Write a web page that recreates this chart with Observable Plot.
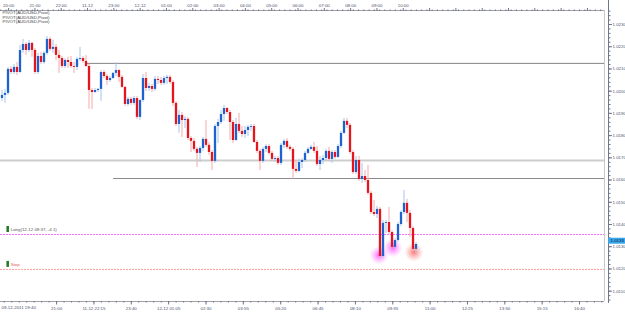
<!DOCTYPE html>
<html><head><meta charset="utf-8">
<script src="https://cdn.jsdelivr.net/npm/d3@7"></script>
<script src="https://cdn.jsdelivr.net/npm/@observablehq/plot@0.6"></script>
<style>html,body{margin:0;padding:0;background:#fff;} svg{display:block}</style>
</head><body><div id="chart"></div>
<script>
// AUD/USD candles (bar index = position in arrays)
const open = [1.01967,1.01981,1.01990,1.02098,1.02084,1.02107,1.02084,1.02183,1.02210,1.02183,
1.02215,1.02183,1.02084,1.02156,1.02129,1.02170,1.02233,1.02188,1.02197,1.02161,
1.02147,1.02111,1.02138,1.02129,1.02111,1.02107,1.02143,1.02147,1.02134,1.02111,
1.02003,1.01994,1.02003,1.02008,1.02084,1.02066,1.02048,1.02057,1.02080,1.02093,
1.02062,1.02017,1.01940,1.01963,1.01945,1.01967,1.01882,1.01958,1.02057,1.02012,
1.02021,1.02008,1.02053,1.02048,1.02035,1.02057,1.02062,1.02039,1.01945,1.01850,
1.01891,1.01868,1.01873,1.01787,1.01774,1.01738,1.01720,1.01742,1.01783,1.01756,
1.01724,1.01684,1.01841,1.01859,1.01895,1.01922,1.01904,1.01859,1.01778,1.01850,
1.01819,1.01805,1.01823,1.01837,1.01841,1.01769,1.01729,1.01684,1.01738,1.01751,
1.01720,1.01693,1.01697,1.01675,1.01756,1.01774,1.01747,1.01738,1.01648,1.01639,
1.01679,1.01688,1.01720,1.01738,1.01747,1.01729,1.01670,1.01688,1.01697,1.01729,
1.01693,1.01724,1.01702,1.01751,1.01810,1.01864,1.01846,1.01724,1.01634,1.01688,
1.01603,1.01616,1.01598,1.01540,1.01454,1.01445,1.01468,1.01256,1.01405,1.01409,
1.01364,1.01297,1.01328,1.01400,1.01454,1.01495,1.01450,1.01382,1.01288];
const close = [1.01981,1.01990,1.02098,1.02084,1.02107,1.02084,1.02183,1.02210,1.02183,1.02215,
1.02183,1.02084,1.02156,1.02129,1.02170,1.02233,1.02188,1.02197,1.02161,1.02147,
1.02111,1.02138,1.02129,1.02111,1.02107,1.02143,1.02147,1.02134,1.02111,1.02003,
1.01994,1.02003,1.02008,1.02084,1.02066,1.02048,1.02057,1.02080,1.02093,1.02062,
1.02017,1.01940,1.01963,1.01945,1.01967,1.01882,1.01958,1.02057,1.02012,1.02021,
1.02008,1.02053,1.02048,1.02035,1.02057,1.02062,1.02039,1.01945,1.01850,1.01891,
1.01868,1.01873,1.01787,1.01774,1.01738,1.01720,1.01742,1.01783,1.01756,1.01724,
1.01684,1.01841,1.01859,1.01895,1.01922,1.01904,1.01859,1.01778,1.01850,1.01819,
1.01805,1.01823,1.01837,1.01841,1.01769,1.01729,1.01684,1.01738,1.01751,1.01720,
1.01693,1.01697,1.01675,1.01756,1.01774,1.01747,1.01738,1.01648,1.01639,1.01679,
1.01688,1.01720,1.01738,1.01747,1.01729,1.01670,1.01688,1.01697,1.01729,1.01693,
1.01724,1.01702,1.01751,1.01810,1.01864,1.01846,1.01724,1.01634,1.01688,1.01603,
1.01616,1.01598,1.01540,1.01454,1.01445,1.01468,1.01256,1.01405,1.01409,1.01364,
1.01297,1.01328,1.01400,1.01454,1.01495,1.01450,1.01382,1.01288,1.01310];
const high = [1.02003,1.02008,1.02107,1.02111,1.02120,1.02129,1.02206,1.02233,1.02219,1.02228,
1.02219,1.02192,1.02170,1.02174,1.02179,1.02246,1.02242,1.02228,1.02210,1.02183,
1.02156,1.02147,1.02152,1.02156,1.02129,1.02152,1.02197,1.02156,1.02161,1.02120,
1.02012,1.02012,1.02012,1.02093,1.02093,1.02075,1.02066,1.02084,1.02129,1.02098,
1.02071,1.02021,1.01972,1.01972,1.01976,1.01976,1.01963,1.02075,1.02084,1.02035,
1.02030,1.02066,1.02066,1.02062,1.02066,1.02071,1.02071,1.02048,1.01954,1.01913,
1.01904,1.01886,1.01882,1.01796,1.01787,1.01747,1.01751,1.01792,1.01868,1.01769,
1.01733,1.01850,1.01873,1.01913,1.01936,1.01927,1.01913,1.01868,1.01877,1.01900,
1.01841,1.01841,1.01846,1.01850,1.01850,1.01778,1.01738,1.01747,1.01760,1.01760,
1.01729,1.01706,1.01706,1.01765,1.01783,1.01787,1.01756,1.01747,1.01688,1.01693,
1.01697,1.01729,1.01747,1.01756,1.01769,1.01751,1.01706,1.01711,1.01738,1.01747,
1.01733,1.01733,1.01760,1.01819,1.01877,1.01877,1.01855,1.01733,1.01706,1.01706,
1.01675,1.01643,1.01666,1.01549,1.01508,1.01481,1.01477,1.01418,1.01418,1.01477,
1.01373,1.01337,1.01409,1.01463,1.01553,1.01513,1.01463,1.01391,1.01319];
const low = [1.01954,1.01945,1.01981,1.02075,1.02075,1.02071,1.02080,1.02170,1.02161,1.02174,
1.02152,1.02075,1.02075,1.02120,1.02120,1.02161,1.02179,1.02170,1.02138,1.02080,
1.02102,1.02102,1.02102,1.02102,1.02080,1.02093,1.02134,1.02125,1.02107,1.01918,
1.01918,1.01990,1.01994,1.01954,1.02057,1.02026,1.02039,1.02053,1.02066,1.02039,
1.02012,1.01931,1.01931,1.01936,1.01936,1.01873,1.01868,1.01949,1.01999,1.01999,
1.01994,1.01999,1.02030,1.02026,1.02026,1.02030,1.02030,1.01931,1.01841,1.01810,
1.01792,1.01832,1.01778,1.01724,1.01729,1.01657,1.01679,1.01729,1.01747,1.01711,
1.01643,1.01675,1.01765,1.01850,1.01864,1.01895,1.01778,1.01765,1.01774,1.01810,
1.01792,1.01787,1.01796,1.01819,1.01765,1.01720,1.01643,1.01675,1.01724,1.01711,
1.01684,1.01679,1.01666,1.01666,1.01742,1.01738,1.01729,1.01603,1.01630,1.01634,
1.01652,1.01679,1.01715,1.01733,1.01720,1.01661,1.01643,1.01670,1.01688,1.01684,
1.01675,1.01693,1.01697,1.01742,1.01805,1.01832,1.01715,1.01625,1.01625,1.01594,
1.01585,1.01589,1.01531,1.01445,1.01436,1.01427,1.01247,1.01247,1.01360,1.01355,
1.01288,1.01288,1.01319,1.01391,1.01445,1.01409,1.01342,1.01279,1.01270];

// horizontal levels (price, first bar where drawn)
const levelPrice = [1.02125, 1.01688, 1.01607];
const levelStart = [28.2, -0.5, 37.2];
const levelColor = ["#858585", "#cdcdcd", "#8a8a8a"];
const levelWidth = [1, 2, 1];

// order lines
const orderPrice = [1.01355, 1.01198];
const orderLabel = ["Long(12-12 09:37, -4.1)", "Stop"];
const orderColor = ["#ff6cff", "#ff9a9a"];
const orderText = ["#555555", "#e06060"];

// glow markers
const glowIdx = [125.7, 130.3, 137.3];
const glowPrice = [1.01262, 1.01295, 1.01275];
const glowKind = ["glowM", "glowM", "glowR"];

const currentPrice = 1.01327;
const legendLines = ["PIVOT(AUD/USD,Pivot)", "PIVOT(AUD/USD,Pivot)", "PIVOT(AUD/USD,Pivot)"];

// axes
const yTicks = [1.0110,1.0120,1.0130,1.0140,1.0150,1.0160,1.0170,1.0180,1.0190,1.0200,1.0210,1.0220,1.0230];
const topLabels = ["20:00","21:00","22:00","11-12","23:00","12-12","01:00","02:00","03:00","04:00","05:00","06:00","07:00","08:00","09:00","10:00"];
const topTicks = [2.2,10.97,19.74,28.51,37.28,46.05,54.82,63.59,72.36,81.13,89.9,98.67,107.44,116.21,124.98,133.75,142.52,151.29,160.06,168.83,177.6,186.37,195.14];
const bottomFirst = "09-12-2011 19:40";
const bottomLabels = ["21:00","11-12 22:15","23:40","12-12 01:05","02:30","03:55","05:20","06:45","08:10","09:35","11:00","12:25","13:50","15:15","16:40"];
const bottomTicks = [18.2,30.65,43.1,55.55,68,80.45,92.9,105.35,117.8,130.25,142.7,155.15,167.6,180.05,192.5];

const xDomain = [-0.5, 200.83];
const yDomain = [1.010535, 1.02363];

const candles = open.map((o, i) => ({i, o, c: close[i], h: high[i], l: low[i], up: close[i] >= o}));
const levels = levelPrice.map((p, k) => ({p, s: levelStart[k], col: levelColor[k], w: levelWidth[k]}));
const orders = orderPrice.map((p, k) => ({p, label: orderLabel[k], col: orderColor[k], tcol: orderText[k]}));
const glows = glowIdx.map((i, k) => ({i, p: glowPrice[k], g: glowKind[k]}));
const topMap = new Map(topTicks.map((t, k) => [t, topLabels[k] ?? ""]));
const botMap = new Map(bottomTicks.map((t, k) => [t, bottomLabels[k]]));
const topMinor = d3.range(-0.43, 200, 8.77 / 5);
const botMinor = d3.range(0.77, 200, 12.45 / 5);
const yMinor = d3.range(1.0106, 1.0236, 0.0002);

const axisCol = "#70758e";
const textCol = "#4c5170";

const chart = Plot.plot({
  width: 625, height: 313,
  marginLeft: 0, marginRight: 21, marginTop: 10, marginBottom: 12,
  x: {domain: xDomain, axis: null},
  y: {domain: yDomain, axis: null},
  color: {type: "identity"},
  style: {fontFamily: "'Liberation Sans', Arial, sans-serif", fontSize: "4.4px", background: "#fff", overflow: "visible"},
  marks: [
    // levels
    Plot.ruleY(levels, {y: "p", x1: "s", x2: xDomain[1], stroke: "col", strokeWidth: "w"}),
    Plot.ruleY(orders, {y: "p", x1: xDomain[0], x2: xDomain[1], stroke: "col", strokeWidth: 1, strokeDasharray: "2,1"}),
    // glows
    Plot.dot(glows, {x: "i", y: "p", r: 9.5, fill: d => `url(#${d.g})`, stroke: null}),
    // candles
    Plot.ruleX(candles, {x: "i", y1: "l", y2: "h", stroke: d => d.up ? "#a6c6ee" : "#f2aaaa", strokeWidth: 1}),
    Plot.ruleX(candles, {x: "i", y1: "o", y2: "c", stroke: d => d.up ? "#1d62cf" : "#e2161c", strokeWidth: 2.3}),
    // order labels
    Plot.ruleX(orders, {x: 1.9, y1: "p", y2: "p", insetTop: -3, insetBottom: -3, dy: -5, stroke: "#1f7a22", strokeWidth: 2.5}),
    Plot.text(orders, {x: 2.9, y: "p", text: "label", fill: "tcol", textAnchor: "start", dy: -5}),
    // legend lines
    Plot.text([legendLines.join("\n")], {frameAnchor: "top-left", dx: 2, dy: 0, lineHeight: 1.08, textAnchor: "start", fill: "#444"}),
    // frame
    Plot.ruleY([yDomain[1]], {stroke: "#a0a0a8"}),
    Plot.ruleY([yDomain[0]], {stroke: "#a0a0a8"}),
    Plot.ruleX([xDomain[1]], {stroke: "#c8c8cc"}),
    Plot.ruleX([xDomain[1]], {stroke: axisCol, dx: 4, insetTop: -10, insetBottom: -2}),
    // right axis
    Plot.axisY({anchor: "right", ticks: yMinor, tickSize: 1.5, tickFormat: () => "", label: null, dx: 4, color: axisCol}),
    Plot.axisY({anchor: "right", ticks: yTicks, tickSize: 3, tickPadding: 1, tickFormat: d => d.toFixed(4), label: null, dx: 4, color: axisCol, fill: textCol}),
    // current price tag
    Plot.ruleY([currentPrice], {y: d => d, x1: xDomain[1], x2: xDomain[1], insetLeft: 4, insetRight: -21, stroke: "#3aa6ea", strokeWidth: 6}),
    Plot.text([currentPrice], {y: d => d, frameAnchor: "right", dx: 6, textAnchor: "start", text: d => d.toFixed(4), fill: "#0b1a3a"}),
    // top axis
    Plot.axisX({anchor: "top", ticks: topMinor, tickSize: 1.5, tickFormat: () => "", label: null, color: axisCol}),
    Plot.axisX({anchor: "top", ticks: topTicks, tickSize: 3, tickPadding: 0.5, tickFormat: d => topMap.get(d), label: null, color: axisCol, fill: textCol}),
    // bottom axis
    Plot.axisX({anchor: "bottom", ticks: botMinor, tickSize: 1.5, tickFormat: () => "", label: null, color: axisCol}),
    Plot.axisX({anchor: "bottom", ticks: bottomTicks, tickSize: 3.5, tickPadding: 1.5, tickFormat: d => botMap.get(d), label: null, color: axisCol, fill: textCol}),
    Plot.text([bottomFirst], {frameAnchor: "bottom-left", dx: 1, dy: 7.5, textAnchor: "start", fill: textCol})
  ]
});

const defs = d3.select(chart).insert("defs", ":first-child");
const gm = defs.append("radialGradient").attr("id", "glowM");
gm.append("stop").attr("offset", "0%").attr("stop-color", "#ff30ff").attr("stop-opacity", 0.75);
gm.append("stop").attr("offset", "55%").attr("stop-color", "#ff60ff").attr("stop-opacity", 0.35);
gm.append("stop").attr("offset", "100%").attr("stop-color", "#ff80ff").attr("stop-opacity", 0);
const gr = defs.append("radialGradient").attr("id", "glowR");
gr.append("stop").attr("offset", "0%").attr("stop-color", "#ff4040").attr("stop-opacity", 0.7);
gr.append("stop").attr("offset", "55%").attr("stop-color", "#ff7070").attr("stop-opacity", 0.35);
gr.append("stop").attr("offset", "100%").attr("stop-color", "#ff9090").attr("stop-opacity", 0);

document.getElementById("chart").appendChild(chart);
</script>
</body></html>
